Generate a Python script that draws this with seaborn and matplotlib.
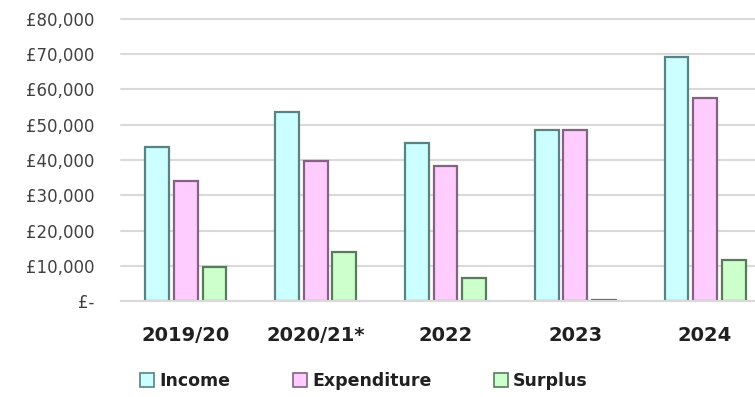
import matplotlib
matplotlib.use("Agg")
import matplotlib.pyplot as plt
import seaborn as sns
import pandas as pd
from matplotlib.patches import Patch
from matplotlib.ticker import FuncFormatter

years = ["2019/20", "2020/21*", "2022", "2023", "2024"]
income = [43700, 53600, 44900, 48600, 69200]
expenditure = [34000, 39600, 38400, 48400, 57700]
surplus = [9700, 14000, 6500, 350, 11600]
series = ["Income", "Expenditure", "Surplus"]
fills = ["#CCFFFF", "#FFCCFF", "#CCFFCC"]
edges = ["#5A8282", "#826482", "#5A7A5A"]

rows = []
for name, vals in zip(series, [income, expenditure, surplus]):
    for y, v in zip(years, vals):
        rows.append({"Year": y, "Series": name, "Value": v})
df = pd.DataFrame(rows)

sns.set_style("white")
plt.rcParams["font.family"] = ["DejaVu Sans"]

fig = plt.figure(figsize=(7.55, 3.97), dpi=100)
ax = fig.add_axes([121 / 755, 1 - 301 / 397, (770 - 121) / 755, (301 - 19) / 397])

sns.barplot(data=df, x="Year", y="Value", hue="Series", order=years,
            hue_order=series, palette=fills, saturation=1, width=0.66, gap=0.17,
            linewidth=1.6, edgecolor="#666666", ax=ax, legend=False)

n = len(years)
for i, patch in enumerate(ax.patches[: n * 3]):
    patch.set_edgecolor(edges[i // n])

ax.set_ylim(0, 80000)
ax.set_yticks(range(0, 80001, 10000))
ax.yaxis.set_major_formatter(FuncFormatter(lambda v, p: "£-" if v == 0 else f"£{int(v):,}"))
ax.grid(axis="y", color="#D9D9D9", linewidth=1.5)
for gl in ax.get_ygridlines():
    gl.set_clip_on(False)
ax.set_axisbelow(True)
for s in ["top", "right", "left"]:
    ax.spines[s].set_visible(False)
ax.spines["bottom"].set_color("#D9D9D9")
ax.spines["bottom"].set_linewidth(1.5)
ax.set_xlabel("")
ax.set_ylabel("")
ax.tick_params(axis="y", length=0, pad=19, labelsize=12, labelcolor="#404040")
ax.tick_params(axis="x", length=0, pad=18, labelsize=14, labelcolor="#202020")
for lab in ax.get_xticklabels():
    lab.set_fontweight("bold")

handles = [Patch(facecolor=f, edgecolor=e, linewidth=1.2) for f, e in zip(fills, edges)]
leg = fig.legend(handles, series, loc="center", bbox_to_anchor=(364 / 755, 1 - 381 / 397),
                 ncol=3, frameon=False, fontsize=12.5, handlelength=0.8, handleheight=0.8,
                 handletextpad=0.3, columnspacing=3.6)
for t in leg.get_texts():
    t.set_fontweight("bold")
    t.set_color("#202020")

fig.savefig("out.png", dpi=100)
